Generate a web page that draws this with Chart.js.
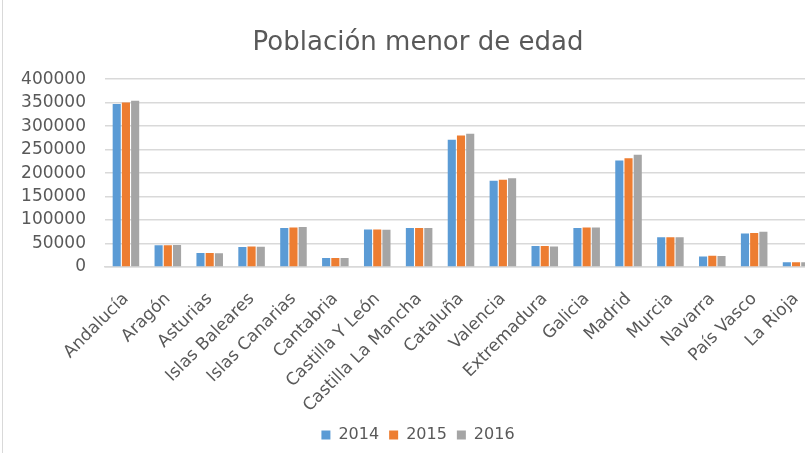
<!DOCTYPE html>
<html>
<head>
<meta charset="utf-8">
<script src="https://cdn.jsdelivr.net/npm/chart.js@4"></script>
<style>
  html, body { margin: 0; padding: 0; background: #fff; overflow: hidden; }
  #wrap { position: absolute; left: 2px; top: 0; width: 850px; height: 453px; border-left: 1px solid #d9d9d9; }
</style>
</head>
<body>
<div id="wrap"><canvas id="poblacion" width="850" height="453"></canvas></div>
<script>
// Población menor de edad por comunidad
var comunidades = ['Andalucía', 'Aragón', 'Asturias', 'Islas Baleares', 'Islas Canarias', 'Cantabria',
    'Castilla Y León', 'Castilla La Mancha', 'Cataluña', 'Valencia', 'Extremadura', 'Galicia',
    'Madrid', 'Murcia', 'Navarra', 'País Vasco', 'La Rioja'];
var datos2014 = [347000, 46500, 30000, 42500, 83000, 19000, 80000, 83000, 271000, 183500, 44500, 83000, 227000, 63500, 22500, 71500, 10000];
var datos2015 = [350500, 46500, 30000, 43500, 84000, 19000, 80000, 83000, 280000, 186000, 44500, 84000, 231500, 63500, 24000, 72500, 10000];
var datos2016 = [354000, 47000, 29500, 43000, 85000, 19000, 79500, 83000, 284000, 189000, 43500, 84000, 239000, 63500, 23500, 75000, 10000];
var yTicks = [0, 50000, 100000, 150000, 200000, 250000, 300000, 350000, 400000];

var textColor = '#595959';
var fuente = 'DejaVu Sans';

var ctx = document.getElementById("poblacion");
var mychart = new Chart(ctx, {
    type: 'bar',
    data: {
        labels: comunidades,
        datasets: [
            { label: '2014', data: datos2014, backgroundColor: '#5B9BD5' },
            { label: '2015', data: datos2015, backgroundColor: '#ED7D31' },
            { label: '2016', data: datos2016, backgroundColor: '#A5A5A5' },
        ],
    },
    options: {
        responsive: false,
        animation: false,
        categoryPercentage: 0.66,
        barPercentage: 0.88,
        layout: { padding: { left: 16, right: 36, top: 28, bottom: 0 } },
        plugins: {
            title: {
                display: true,
                text: 'Población menor de edad',
                color: textColor,
                font: { family: fuente, size: 26, weight: 'normal' },
                padding: { top: 0, bottom: 20 },
            },
            legend: {
                position: 'bottom',
                labels: {
                    color: textColor,
                    boxWidth: 9,
                    boxHeight: 9,
                    padding: 10,
                    font: { family: fuente, size: 16 },
                },
            },
            tooltip: { enabled: false },
        },
        scales: {
            y: {
                min: 0,
                max: 400000,
                afterBuildTicks: function (scale) {
                    scale.ticks = yTicks.map(function (v) { return { value: v }; });
                },
                afterFit: function (scale) { scale.width = 86; },
                border: { display: false },
                grid: { color: '#d9d9d9', drawTicks: false, lineWidth: 1.5 },
                ticks: {
                    color: textColor,
                    padding: 19,
                    autoSkip: false,
                    font: { family: fuente, size: 17 },
                    callback: function (v) { return String(v); },
                },
            },
            x: {
                afterFit: function (scale) { scale.height = 150; },
                border: { color: '#d9d9d9', width: 1.5 },
                grid: { display: false },
                ticks: {
                    color: textColor,
                    maxRotation: 45,
                    minRotation: 45,
                    autoSkip: false,
                    padding: 14,
                    font: { family: fuente, size: 17 },
                },
            },
        },
    }
});
</script>
</body>
</html>
